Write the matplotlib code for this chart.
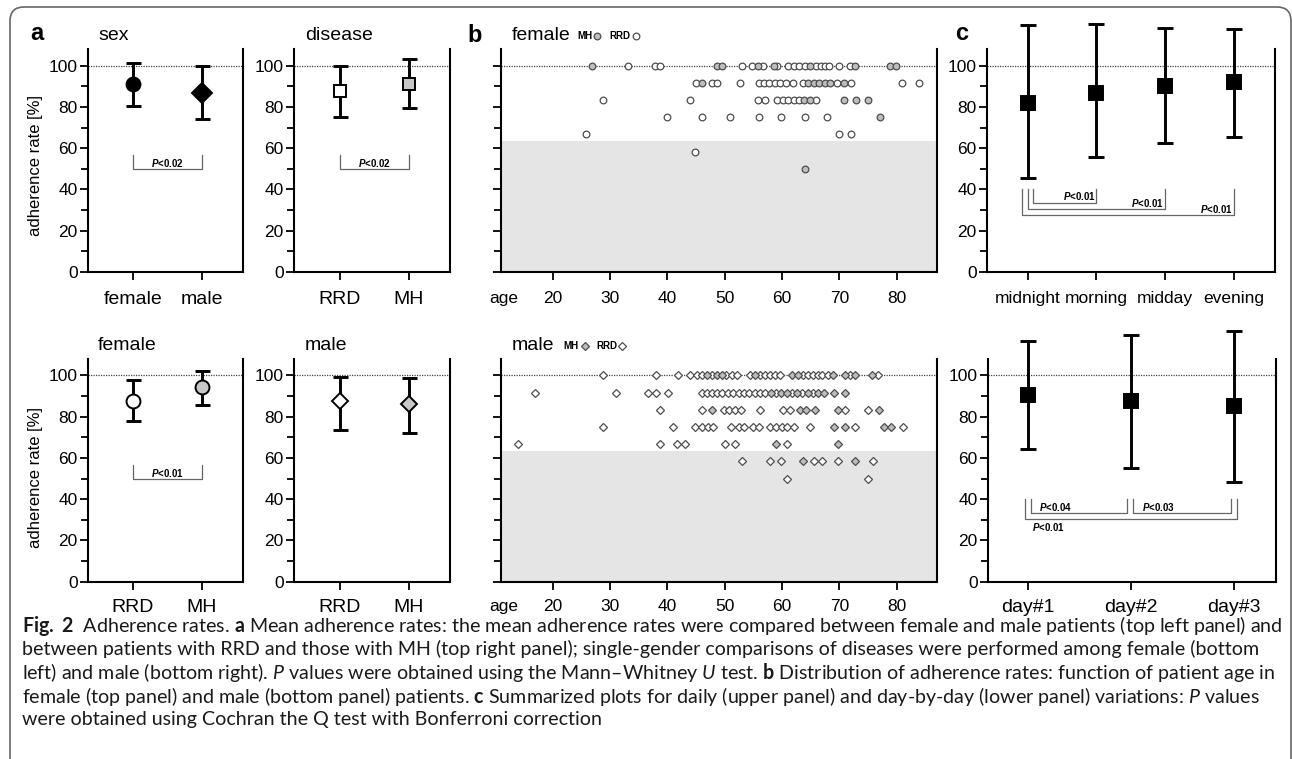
import matplotlib
matplotlib.use("Agg")
import matplotlib.pyplot as plt
from matplotlib.lines import Line2D
from matplotlib.patches import FancyBboxPatch

plt.rcParams['font.family'] = ['Liberation Sans', 'DejaVu Sans']
plt.rcParams['mathtext.fontset'] = 'custom'
plt.rcParams['mathtext.rm'] = 'Lato'
plt.rcParams['mathtext.it'] = 'Lato:italic'
plt.rcParams['mathtext.bf'] = 'Lato:bold'
plt.rcParams['mathtext.bfit'] = 'Liberation Sans:italic:bold'

W, H = 1292, 759

# ---- data: panel a (mean, lower and upper end of error bar) ----
sex_labels = ['female', 'male']
sex_mean = [91.0, 86.6]
sex_low = [80.4, 74.3]
sex_high = [101.5, 100.0]

disease_labels = ['RRD', 'MH']
disease_mean = [87.9, 91.0]
disease_low = [75.2, 79.6]
disease_high = [100.0, 103.3]

female_mean = [87.7, 94.2]
female_low = [78.0, 85.8]
female_high = [97.6, 102.4]

male_mean = [87.4, 86.3]
male_low = [73.6, 72.0]
male_high = [99.5, 98.7]

# ---- data: panel c ----
time_labels = ['midnight', 'morning', 'midday', 'evening']
time_mean = [81.8, 86.7, 90.0, 91.9]
time_low = [45.5, 55.6, 62.4, 65.2]
time_high = [119.9, 120.2, 118.2, 118.0]

day_labels = ['day#1', 'day#2', 'day#3']
day_mean = [90.3, 87.4, 85.3]
day_low = [64.3, 55.3, 48.5]
day_high = [116.8, 119.8, 121.8]

# ---- data: panel b, ages grouped by adherence level ----
levels = [100.0, 91.67, 83.33, 75.0, 66.67, 58.33, 50.0]

female_rrd_ages = [
    [33.1, 37.8, 38.8, 53.0, 54.8, 56.6, 59.1, 61.1, 62.1, 63.0, 64.0, 65.9, 66.7, 67.5, 68.1, 70.0, 71.9],
    [45.0, 47.7, 48.6, 52.7, 55.9, 56.9, 57.8, 58.7, 59.6, 60.6, 61.9, 63.7, 69.6, 72.0, 80.9, 83.9],
    [28.8, 43.9, 55.8, 57.0, 59.1, 60.1, 61.0, 62.0, 63.0, 65.9],
    [39.9, 46.0, 50.9, 55.9, 59.8, 64.0, 67.9],
    [25.8, 69.9, 72.0],
    [44.9],
    [],
]
female_mh_ages = [
    [26.9, 48.7, 49.6, 55.8, 58.6, 64.8, 72.7, 78.8, 79.9],
    [46.0, 64.6, 65.5, 66.5, 67.4, 68.4, 70.8],
    [63.8, 64.9, 70.8, 72.8, 74.9],
    [77.0],
    [],
    [],
    [64.0],
]
male_rrd_ages = [
    [28.8, 38.0, 41.9, 44.0, 45.1, 46.0, 47.7, 50.3, 51.2, 52.1, 54.4, 56.2, 57.0, 57.9, 58.8, 59.6,
     63.6, 64.5, 65.3, 66.2, 67.0, 68.0, 71.9, 76.7],
    [16.9, 31.0, 36.7, 38.1, 40.1, 46.0, 46.9, 47.7, 48.7, 49.6, 50.5, 51.5, 52.4, 53.3, 54.2, 55.2,
     56.1, 57.0, 58.9, 61.7, 63.5, 65.4],
    [38.7, 46.0, 49.8, 50.8, 51.8, 52.8, 56.2, 60.2, 61.4, 70.9, 74.9],
    [28.8, 41.0, 44.9, 46.0, 47.0, 48.0, 51.1, 52.4, 53.4, 55.0, 56.0, 57.9, 58.9, 59.9, 60.9, 62.0,
     64.9, 72.7, 81.0],
    [13.9, 38.7, 41.6, 43.1, 50.0, 51.8, 60.9],
    [53.0, 57.9, 59.8, 65.5, 66.9, 69.8, 75.9],
    [60.9, 75.0],
]
male_mh_ages = [
    [46.9, 48.6, 49.5, 55.3, 61.8, 62.7, 68.8, 70.9, 72.7, 75.6],
    [58.0, 59.8, 60.8, 62.6, 64.5, 66.3, 67.3, 69.0, 71.0],
    [47.8, 63.1, 64.2, 65.7, 69.8, 76.9],
    [69.0, 70.9, 77.7, 79.0],
    [58.9, 69.8],
    [63.7, 72.7],
    [],
]
age_ticks = [20, 30, 40, 50, 60, 70, 80]
low_zone = 63.3

# ---- p-value brackets: (x1, x2, y, label, text x, text y, align) ----
sex_brackets = [(0, 1, 50, '0.02', 0.5, 52.8, 'center')]
disease_brackets = [(0, 1, 50, '0.02', 0.5, 52.8, 'center')]
female_brackets = [(0, 1, 50, '0.01', 0.5, 52.8, 'center')]
male_brackets = []
time_brackets = [(0.08, 1, 33.5, '0.01', 0.99, 36.6, 'right'),
                 (0.0, 2, 30.4, '0.01', 1.99, 33.6, 'right'),
                 (-0.08, 3, 27.4, '0.01', 2.99, 30.5, 'right')]
day_brackets = [(0.03, 0.96, 33.5, '0.04', 0.27, 36.4, 'center'),
                (1.02, 1.97, 33.5, '0.03', 1.27, 36.4, 'center'),
                (-0.03, 2.03, 30.3, '0.01', 0.20, 26.3, 'center')]

fig = plt.figure(figsize=(W / 100, H / 100), dpi=100)


def px_axes(left, top, right, bottom):
    return fig.add_axes([left / W, 1 - bottom / H, (right - left) / W, (bottom - top) / H])


def ftext(x, y, s, **kw):
    return fig.text(x / W, 1 - y / H, s, **kw)


def style(ax, xlim, labelsize=14, pad=8):
    ax.set_xlim(*xlim)
    ax.set_ylim(0, 108)
    ax.spines['top'].set_visible(False)
    for side in ['left', 'right', 'bottom']:
        ax.spines[side].set_linewidth(1.5)
    ax.set_yticks(range(0, 101, 20))
    ax.set_yticks(range(10, 100, 20), minor=True)
    ax.tick_params(axis='y', which='major', length=5.8, width=1.3, labelsize=12.5, pad=1.5)
    ax.tick_params(axis='y', which='minor', length=5, width=1.3)
    ax.tick_params(axis='x', length=5.8, width=1.3, labelsize=labelsize, pad=pad)
    ax.axhline(100, color='#444444', lw=0.9, ls=(0, (1, 1)), zorder=1)


def mean_panel(ax, labels, mean, low, high, markers, fills, ms, brackets, xlim,
               labelsize=14, cap=5.4, pad=8):
    x = list(range(len(labels)))
    style(ax, xlim, labelsize, pad)
    err = [[m - lo for m, lo in zip(mean, low)], [hi - m for m, hi in zip(mean, high)]]
    eb = ax.errorbar(x, mean, yerr=err, fmt='none', ecolor='black', elinewidth=2.1,
                     capsize=cap, capthick=2.1, zorder=2)
    for art in eb.get_children():
        art.set_clip_on(False)
    for xi, m, mk, fc in zip(x, mean, markers, fills):
        ax.plot(xi, m, marker=mk, ms=ms, mfc=fc, mec='black', mew=1.4, ls='none',
                zorder=3, clip_on=False)
    ax.set_xticks(x)
    ax.set_xticklabels(labels)
    for x1, x2, y, p, tx, ty, ha in brackets:
        top = 40 if y < 40 else y + 6.5
        ax.plot([x1, x1, x2, x2], [top, y, y, top], color='#666666', lw=0.9, zorder=1)
        ax.text(tx, ty, r'$\mathbfit{P}$<' + p, ha=ha, va='center', fontsize=7, fontweight='bold')


def age_panel(ax, rrd_rows, mh_rows, marker, ms, pad=8):
    style(ax, (11, 87), 12.5, pad)
    ax.axhspan(0, low_zone, color='#e5e5e5', lw=0, zorder=0)
    for rows, fc in [(rrd_rows, 'white'), (mh_rows, '#bdbdbd')]:
        ages = [a for row in rows for a in row]
        rates = [lv for lv, row in zip(levels, rows) for _ in row]
        ax.plot(ages, rates, ls='none', marker=marker, ms=ms, mfc=fc, mec='#4d4d4d',
                mew=0.9, zorder=3, clip_on=False)
    ax.set_xticks([11.5] + age_ticks)
    ax.set_xticklabels(['age'] + [str(t) for t in age_ticks])
    ax.xaxis.get_major_ticks()[0].tick1line.set_visible(False)
    ax.set_yticklabels([])


top_row = (49.2, 272.0)
bot_row = (359.0, 581.7)

ax1 = px_axes(88, top_row[0], 243, top_row[1])
mean_panel(ax1, sex_labels, sex_mean, sex_low, sex_high, ['o', 'D'], ['black', 'black'],
           10, sex_brackets, (-0.65, 1.6))
ax2 = px_axes(294, top_row[0], 450, top_row[1])
mean_panel(ax2, disease_labels, disease_mean, disease_low, disease_high, ['s', 's'],
           ['white', '#c8c8c8'], 8, disease_brackets, (-0.66, 1.6))
ax3 = px_axes(88, bot_row[0], 243, bot_row[1])
mean_panel(ax3, disease_labels, female_mean, female_low, female_high, ['o', 'o'],
           ['white', '#c8c8c8'], 10, female_brackets, (-0.65, 1.6), pad=6.5)
ax4 = px_axes(294, bot_row[0], 450, bot_row[1])
mean_panel(ax4, disease_labels, male_mean, male_low, male_high, ['D', 'D'],
           ['white', '#c8c8c8'], 8.5, male_brackets, (-0.66, 1.6), pad=6.5)

ax5 = px_axes(501, top_row[0], 937, top_row[1])
age_panel(ax5, female_rrd_ages, female_mh_ages, 'o', 4.8)
ax6 = px_axes(501, bot_row[0], 937, bot_row[1])
age_panel(ax6, male_rrd_ages, male_mh_ages, 'D', 3.8, pad=6.5)

ax7 = px_axes(987, top_row[0], 1275, top_row[1])
mean_panel(ax7, time_labels, time_mean, time_low, time_high, ['s'] * 4, ['black'] * 4,
           9.5, time_brackets, (-0.59, 3.6), labelsize=12.5, cap=5.8)
ax8 = px_axes(988, bot_row[0], 1276, bot_row[1])
mean_panel(ax8, day_labels, day_mean, day_low, day_high, ['s'] * 3, ['black'] * 3,
           9.5, day_brackets, (-0.39, 2.41), labelsize=14, cap=5.8, pad=6.5)

# y labels
for yc in [166, 477]:
    ftext(36, yc, 'adherence rate [%]', rotation=90, ha='center', va='center', fontsize=12)

# panel letters and titles
ftext(30, 34, 'a', fontsize=17, fontweight='bold', va='center')
ftext(467, 35, 'b', fontsize=17, fontweight='bold', va='center')
ftext(955, 33, 'c', fontsize=17, fontweight='bold', va='center')
ftext(98, 35, 'sex', fontsize=14, va='center')
ftext(305, 35, 'disease', fontsize=14, va='center')
ftext(98, 345, 'female', fontsize=14, va='center')
ftext(305, 345, 'male', fontsize=14, va='center')

# legends of panel b
for (x0, y0, name, mk, ms, mh_x, rrd_x, mx1, mx2) in [
        (512, 35, 'female', 'o', 4.8, 577, 609, 597, 636),
        (512, 345, 'male', 'D', 3.8, 563, 596, 585, 622)]:
    ftext(x0, y0, name, fontsize=14, va='center')
    ftext(mh_x, y0 + 1, 'MH', fontsize=7, fontweight='bold', va='center')
    ftext(rrd_x, y0 + 1, 'RRD', fontsize=7, fontweight='bold', va='center')
    for mx, fc in [(mx1, '#bdbdbd'), (mx2, 'white')]:
        fig.add_artist(Line2D([mx / W], [1 - (y0 + 1) / H], transform=fig.transFigure,
                              marker=mk, ms=ms, mfc=fc, mec='#4d4d4d', mew=0.9, ls='none'))

# caption
caption = [
    r'$\mathbf{Fig.\ 2}$  Adherence rates. $\mathbf{a}$ Mean adherence rates: the mean adherence rates were '
    r'compared between female and male patients (top left panel) and',
    r'between patients with RRD and those with MH (top right panel); single-gender comparisons of diseases '
    r'were performed among female (bottom',
    r'left) and male (bottom right). $\mathit{P}$ values were obtained using the Mann–Whitney $\mathit{U}$ '
    r'test. $\mathbf{b}$ Distribution of adherence rates: function of patient age in',
    r'female (top panel) and male (bottom panel) patients. $\mathbf{c}$ Summarized plots for daily (upper '
    r'panel) and day-by-day (lower panel) variations: $\mathit{P}$ values',
    r'were obtained using Cochran the Q test with Bonferroni correction',
]
cap_texts = [ftext(22, 626 + i * 23.4, s, fontsize=12, family='Lato', va='center', color='#1a1a1a')
             for i, s in enumerate(caption)]
fig.canvas.draw()
renderer = fig.canvas.get_renderer()
w0 = cap_texts[0].get_window_extent(renderer).width
for t in cap_texts:
    t.set_fontsize(12 * (1279 - 22) / w0)

# frame around the figure (open at the bottom)
frame = FancyBboxPatch((10 / W, -0.3), 1281 / W, (H - 7) / H + 0.3,
                       boxstyle='round,pad=0,rounding_size=%f' % (14 / W),
                       mutation_aspect=W / H, transform=fig.transFigure,
                       fill=False, edgecolor='#666666', lw=1.2)
fig.add_artist(frame)

fig.savefig('out.png', dpi=100)
